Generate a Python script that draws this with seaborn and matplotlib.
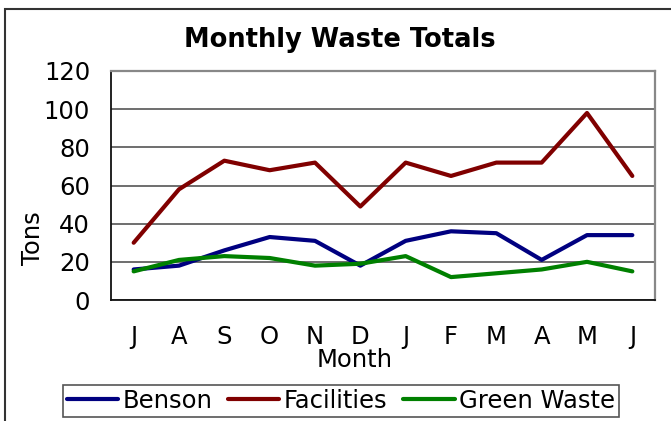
import matplotlib
matplotlib.use("Agg")
import matplotlib.pyplot as plt
import seaborn as sns
import pandas as pd
from matplotlib.patches import Rectangle

months = ["J", "A", "S", "O", "N", "D", "J", "F", "M", "A", "M", "J"]
benson = [16, 18, 26, 33, 31, 18, 31, 36, 35, 21, 34, 34]
facilities = [30, 58, 73, 68, 72, 49, 72, 65, 72, 72, 98, 65]
green_waste = [15, 21, 23, 22, 18, 19, 23, 12, 14, 16, 20, 15]
series_names = ["Benson", "Facilities", "Green Waste"]
y_ticks = [0, 20, 40, 60, 80, 100, 120]

idx = list(range(len(months)))
df = pd.concat([
    pd.DataFrame({"idx": idx, "tons": benson, "series": "Benson"}),
    pd.DataFrame({"idx": idx, "tons": facilities, "series": "Facilities"}),
    pd.DataFrame({"idx": idx, "tons": green_waste, "series": "Green Waste"}),
])

sns.set_style("white")
plt.rcParams["font.family"] = ["DejaVu Sans"]
plt.rcParams["text.color"] = "black"
plt.rcParams["xtick.color"] = "black"
plt.rcParams["ytick.color"] = "black"

fig = plt.figure(figsize=(6.71, 4.21), dpi=100)
ax = fig.add_axes([111/671, 1-300/421, 544/671, 229/421])

palette = {"Benson": "#000080", "Facilities": "#800000", "Green Waste": "#008000"}
sns.lineplot(data=df, x="idx", y="tons", hue="series", hue_order=series_names,
             palette=palette, linewidth=3.0, ax=ax, legend=True)

ax.set_xlim(-0.5, len(months) - 0.5)
ax.set_ylim(0, 120)
ax.set_yticks(y_ticks)
ax.set_yticklabels([str(v) for v in y_ticks], fontsize=17.5)
ax.set_xticks(idx)
ax.set_xticklabels(months, fontsize=17.5)
ax.set_xticks([i - 0.5 for i in range(len(months) + 1)], minor=True)
ax.tick_params(axis="x", which="major", length=0, pad=18)
ax.tick_params(axis="x", which="minor", length=6, width=1.2, color="#222222", direction="out")
ax.tick_params(axis="y", which="major", length=6, width=1.2, color="#222222", direction="out", pad=9)
ax.yaxis.grid(True, color="#555555", linewidth=1.2)
ax.set_axisbelow(True)
for s in ["left", "bottom"]:
    ax.spines[s].set_color("#111111")
    ax.spines[s].set_linewidth(1.3)
for s in ["top", "right"]:
    ax.spines[s].set_color("#888888")
    ax.spines[s].set_linewidth(1.6)
ax.set_xlabel("")
ax.set_ylabel("")

fig.text(340/671, 1-40/421, "Monthly Waste Totals", ha="center", va="center",
         fontsize=18.5, fontweight="bold")
fig.text(33/671, 1-238/421, "Tons", ha="center", va="center", rotation=90, fontsize=17.5)
fig.text(355/671, 1-360/421, "Month", ha="center", va="center", fontsize=17.5)

handles, labels = ax.get_legend_handles_labels()
ax.legend_.remove()
leg = fig.legend(handles, labels, loc="center", bbox_to_anchor=(341/671, 1-401/421),
                 ncol=3, fontsize=17.5, frameon=True, fancybox=False, framealpha=1,
                 edgecolor="#555555", handlelength=2.1, handletextpad=0.2,
                 columnspacing=0.65, borderpad=0.15, borderaxespad=0)
leg.get_frame().set_linewidth(1.2)

fig.patches.append(Rectangle((5/671, -0.2), 1.2, 0.2 + 1 - 9/421, transform=fig.transFigure,
                             fill=False, edgecolor="#333333", linewidth=1.5, clip_on=False))

fig.savefig("out.png", dpi=100)
